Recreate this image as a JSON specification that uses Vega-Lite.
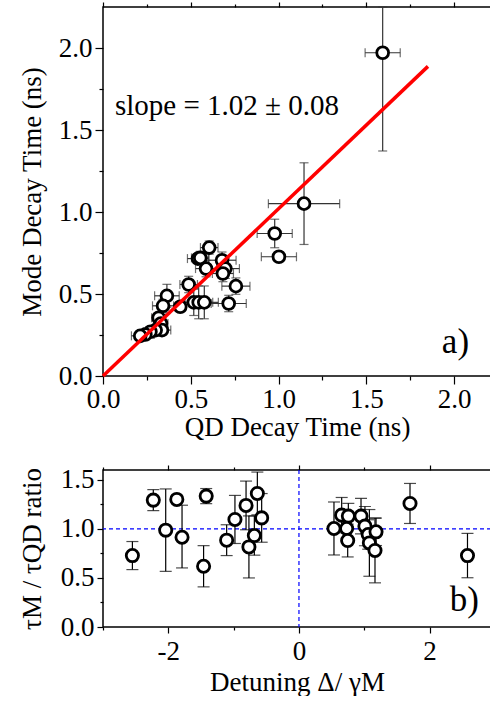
{
  "$schema": "https://vega.github.io/schema/vega-lite/v6.json",
  "padding": {"left": 17, "top": 0, "right": 0, "bottom": 0},
  "background": "white",
  "spacing": 22,
  "config": {
    "font": "Liberation Serif",
    "view": {"stroke": "black", "strokeWidth": 1.5},
    "style": {"guide-label": {"font": "Liberation Serif", "fontSize": 27}, "guide-title": {"font": "Liberation Serif", "fontSize": 27}},
    "text": {"font": "Liberation Serif"},
    "axis": {"labelFont": "Liberation Serif", "titleFont": "Liberation Serif", "labelFontSize": 27, "titleFontSize": 27, "titleFontWeight": "normal", "labelColor": "black", "titleColor": "black", "tickColor": "black", "tickWidth": 1.2, "domain": false, "grid": false, "labelFlush": false, "labelOverlap": false}
  },
  "datasets": {
    "top": [
      {"x": 1.593, "y": 1.971, "xlo": 1.493, "xhi": 1.693, "ylo": 1.372, "yhi": 2.25},
      {"x": 1.145, "y": 1.051, "xlo": 0.942, "xhi": 1.348, "ylo": 0.802, "yhi": 1.30},
      {"x": 0.978, "y": 0.869, "xlo": 0.878, "xhi": 1.078, "ylo": 0.782, "yhi": 0.956},
      {"x": 1.002, "y": 0.727, "xlo": 0.902, "xhi": 1.102, "ylo": 0.70, "yhi": 0.754},
      {"x": 0.605, "y": 0.783, "xlo": 0.555, "xhi": 0.655, "ylo": 0.743, "yhi": 0.823},
      {"x": 0.541, "y": 0.716, "xlo": 0.481, "xhi": 0.601, "ylo": 0.686, "yhi": 0.746},
      {"x": 0.554, "y": 0.72, "xlo": 0.504, "xhi": 0.604, "ylo": 0.68, "yhi": 0.76},
      {"x": 0.587, "y": 0.655, "xlo": 0.527, "xhi": 0.647, "ylo": 0.605, "yhi": 0.705},
      {"x": 0.678, "y": 0.706, "xlo": 0.598, "xhi": 0.758, "ylo": 0.656, "yhi": 0.756},
      {"x": 0.697, "y": 0.655, "xlo": 0.617, "xhi": 0.777, "ylo": 0.595, "yhi": 0.715},
      {"x": 0.683, "y": 0.625, "xlo": 0.623, "xhi": 0.743, "ylo": 0.575, "yhi": 0.675},
      {"x": 0.757, "y": 0.548, "xlo": 0.677, "xhi": 0.837, "ylo": 0.498, "yhi": 0.598},
      {"x": 0.488, "y": 0.558, "xlo": 0.438, "xhi": 0.538, "ylo": 0.508, "yhi": 0.608},
      {"x": 0.517, "y": 0.449, "xlo": 0.467, "xhi": 0.567, "ylo": 0.369, "yhi": 0.529},
      {"x": 0.545, "y": 0.449, "xlo": 0.465, "xhi": 0.625, "ylo": 0.349, "yhi": 0.549},
      {"x": 0.577, "y": 0.449, "xlo": 0.497, "xhi": 0.657, "ylo": 0.349, "yhi": 0.549},
      {"x": 0.716, "y": 0.442, "xlo": 0.616, "xhi": 0.816, "ylo": 0.392, "yhi": 0.492},
      {"x": 0.44, "y": 0.422, "xlo": 0.41, "xhi": 0.47, "ylo": 0.392, "yhi": 0.452},
      {"x": 0.364, "y": 0.489, "xlo": 0.294, "xhi": 0.434, "ylo": 0.419, "yhi": 0.559},
      {"x": 0.342, "y": 0.428, "xlo": 0.282, "xhi": 0.402, "ylo": 0.388, "yhi": 0.468},
      {"x": 0.317, "y": 0.355, "xlo": 0.277, "xhi": 0.357, "ylo": 0.325, "yhi": 0.385},
      {"x": 0.33, "y": 0.32, "xlo": 0.29, "xhi": 0.37, "ylo": 0.29, "yhi": 0.35},
      {"x": 0.336, "y": 0.28, "xlo": 0.286, "xhi": 0.386, "ylo": 0.25, "yhi": 0.31},
      {"x": 0.30, "y": 0.28, "xlo": 0.26, "xhi": 0.34, "ylo": 0.25, "yhi": 0.31},
      {"x": 0.27, "y": 0.27, "xlo": 0.23, "xhi": 0.31, "ylo": 0.25, "yhi": 0.29},
      {"x": 0.241, "y": 0.253, "xlo": 0.191, "xhi": 0.291, "ylo": 0.233, "yhi": 0.273},
      {"x": 0.212, "y": 0.245, "xlo": 0.162, "xhi": 0.262, "ylo": 0.225, "yhi": 0.265}
    ],
    "bot": [
      {"x": -2.55, "y": 0.728, "ylo": 0.585, "yhi": 0.871},
      {"x": -2.23, "y": 1.293, "ylo": 1.186, "yhi": 1.40},
      {"x": -2.04, "y": 0.987, "ylo": 0.567, "yhi": 1.407},
      {"x": -1.87, "y": 1.30, "ylo": 1.27, "yhi": 1.33},
      {"x": -1.79, "y": 0.915, "ylo": 0.602, "yhi": 1.241},
      {"x": -1.42, "y": 1.334, "ylo": 1.257, "yhi": 1.411},
      {"x": -1.46, "y": 0.619, "ylo": 0.409, "yhi": 0.829},
      {"x": -1.107, "y": 0.885, "ylo": 0.728, "yhi": 1.042},
      {"x": -0.98, "y": 1.096, "ylo": 0.851, "yhi": 1.341},
      {"x": -0.81, "y": 1.239, "ylo": 0.991, "yhi": 1.487},
      {"x": -0.766, "y": 0.816, "ylo": 0.50, "yhi": 1.132},
      {"x": -0.683, "y": 0.932, "ylo": 0.732, "yhi": 1.132},
      {"x": -0.637, "y": 1.361, "ylo": 1.143, "yhi": 1.579},
      {"x": -0.571, "y": 1.112, "ylo": 0.864, "yhi": 1.36},
      {"x": 0.536, "y": 1.004, "ylo": 0.734, "yhi": 1.274},
      {"x": 0.654, "y": 1.14, "ylo": 0.96, "yhi": 1.32},
      {"x": 0.756, "y": 1.13, "ylo": 1.0, "yhi": 1.26},
      {"x": 0.73, "y": 1.004, "ylo": 0.874, "yhi": 1.134},
      {"x": 0.746, "y": 0.881, "ylo": 0.714, "yhi": 1.048},
      {"x": 0.95, "y": 1.13, "ylo": 0.95, "yhi": 1.31},
      {"x": 1.01, "y": 1.028, "ylo": 0.828, "yhi": 1.228},
      {"x": 1.06, "y": 0.943, "ylo": 0.793, "yhi": 1.093},
      {"x": 1.18, "y": 0.97, "ylo": 0.83, "yhi": 1.11},
      {"x": 1.078, "y": 0.857, "ylo": 0.517, "yhi": 1.197},
      {"x": 1.164, "y": 0.78, "ylo": 0.45, "yhi": 1.11},
      {"x": 1.70, "y": 1.259, "ylo": 1.055, "yhi": 1.463},
      {"x": 2.58, "y": 0.728, "ylo": 0.502, "yhi": 0.954}
    ]
  },
  "vconcat": [
    {
      "width": 388,
      "height": 369,
      "layer": [
        {
          "data": {"name": "top"},
          "mark": {"type": "errorbar", "ticks": {"size": 9, "color": "#333"}, "rule": {"color": "#333", "strokeWidth": 1.2}, "thickness": 1.2},
          "encoding": {
            "x": {"field": "xlo", "type": "quantitative", "scale": {"domain": [0, 2.21], "nice": false, "zero": false},
              "axis": {"orient": "bottom", "title": "QD Decay Time (ns)", "labelFont": "Liberation Serif", "titleFont": "Liberation Serif", "labelFontSize": 27, "titleFontSize": 27, "values": [0, 0.25, 0.5, 0.75, 1, 1.25, 1.5, 1.75, 2], "labelExpr": "datum.value % 0.5 === 0 ? format(datum.value, '.1f') : ''", "tickSize": {"condition": {"test": "datum.value % 0.5 === 0", "value": 8}, "value": 4}, "labelPadding": 2, "titlePadding": 2}},
            "x2": {"field": "xhi"},
            "y": {"field": "y", "type": "quantitative", "scale": {"domain": [0, 2.25], "nice": false, "zero": false},
              "axis": {"orient": "left", "title": "Mode Decay Time (ns)", "labelFont": "Liberation Serif", "titleFont": "Liberation Serif", "labelFontSize": 27, "titleFontSize": 27, "values": [0, 0.25, 0.5, 0.75, 1, 1.25, 1.5, 1.75, 2], "labelExpr": "datum.value % 0.5 === 0 ? format(datum.value, '.1f') : ''", "tickSize": {"condition": {"test": "datum.value % 0.5 === 0", "value": 8}, "value": 4}, "labelPadding": 3, "titlePadding": 10, "minExtent": 47, "maxExtent": 47}}
          }
        },
        {
          "data": {"name": "top"},
          "mark": {"type": "errorbar", "ticks": {"size": 9, "color": "#333"}, "rule": {"color": "#333", "strokeWidth": 1.2}, "thickness": 1.2},
          "encoding": {
            "x": {"field": "x", "type": "quantitative", "scale": {"domain": [0, 2.21], "nice": false, "zero": false},
              "axis": {"orient": "top", "title": null, "labels": false, "values": [0, 0.25, 0.5, 0.75, 1, 1.25, 1.5, 1.75, 2], "tickSize": {"condition": {"test": "datum.value % 0.5 === 0", "value": 5}, "value": 3}}},
            "y": {"field": "ylo", "type": "quantitative", "scale": {"domain": [0, 2.25], "nice": false, "zero": false},
              "axis": {"orient": "right", "title": null, "labels": false, "values": [0, 0.25, 0.5, 0.75, 1, 1.25, 1.5, 1.75, 2], "tickSize": {"condition": {"test": "datum.value % 0.5 === 0", "value": 5}, "value": 3}}},
            "y2": {"field": "yhi"}
          }
        },
        {
          "data": {"name": "top"},
          "mark": {"type": "point", "shape": "circle", "size": 140, "fill": "white", "stroke": "black", "strokeWidth": 2.8, "opacity": 1, "fillOpacity": 1},
          "encoding": {
            "x": {"field": "x", "type": "quantitative", "scale": {"domain": [0, 2.21], "nice": false, "zero": false}, "axis": null},
            "y": {"field": "y", "type": "quantitative", "scale": {"domain": [0, 2.25], "nice": false, "zero": false}, "axis": null}
          }
        },
        {
          "data": {"values": [{"x": 0, "y": 0}, {"x": 1.851, "y": 1.888}]},
          "mark": {"type": "line", "color": "#ff0000", "strokeWidth": 3.5},
          "encoding": {
            "x": {"field": "x", "type": "quantitative", "scale": {"domain": [0, 2.21], "nice": false, "zero": false}, "axis": null},
            "y": {"field": "y", "type": "quantitative", "scale": {"domain": [0, 2.25], "nice": false, "zero": false}, "axis": null}
          }
        },
        {
          "data": {"values": [{"x": 0.068, "y": 1.59, "label": "slope = 1.02 ± 0.08"}]},
          "mark": {"type": "text", "align": "left", "baseline": "alphabetic", "font": "Liberation Serif", "fontSize": 29, "color": "black"},
          "encoding": {
            "x": {"field": "x", "type": "quantitative", "scale": {"domain": [0, 2.21], "nice": false, "zero": false}, "axis": null},
            "y": {"field": "y", "type": "quantitative", "scale": {"domain": [0, 2.25], "nice": false, "zero": false}, "axis": null},
            "text": {"field": "label"}
          }
        },
        {
          "data": {"values": [{"x": 1.93, "y": 0.138, "label": "a)"}]},
          "mark": {"type": "text", "align": "left", "baseline": "alphabetic", "font": "Liberation Serif", "fontSize": 35, "color": "black"},
          "encoding": {
            "x": {"field": "x", "type": "quantitative", "scale": {"domain": [0, 2.21], "nice": false, "zero": false}, "axis": null},
            "y": {"field": "y", "type": "quantitative", "scale": {"domain": [0, 2.25], "nice": false, "zero": false}, "axis": null},
            "text": {"field": "label"}
          }
        }
      ],
      "resolve": {"axis": {"x": "independent", "y": "independent"}}
    },
    {
      "width": 388,
      "height": 157,
      "layer": [
        {
          "data": {"values": [{"v": 1}]},
          "mark": {"type": "rule", "color": "#0000ff", "strokeDash": [4, 3], "strokeWidth": 1.2},
          "encoding": {
            "y": {"field": "v", "type": "quantitative", "scale": {"domain": [0, 1.6], "nice": false, "zero": false}, "axis": null}
          }
        },
        {
          "data": {"values": [{"v": 0}]},
          "mark": {"type": "rule", "color": "#0000ff", "strokeDash": [4, 3], "strokeWidth": 1.2},
          "encoding": {
            "x": {"field": "v", "type": "quantitative", "scale": {"domain": [-3, 2.94], "nice": false, "zero": false}, "axis": null}
          }
        },
        {
          "data": {"name": "bot"},
          "mark": {"type": "errorbar", "ticks": {"size": 12, "color": "black"}, "rule": {"color": "black", "strokeWidth": 1.2}, "thickness": 1.2},
          "encoding": {
            "x": {"field": "x", "type": "quantitative", "scale": {"domain": [-3, 2.94], "nice": false, "zero": false},
              "axis": {"orient": "bottom", "title": "Detuning Δ/ γM", "labelFont": "Liberation Serif", "titleFont": "Liberation Serif", "labelFontSize": 27, "titleFontSize": 27, "values": [-3, -2, -1, 0, 1, 2], "labelExpr": "datum.value % 2 === 0 ? '' + datum.value : ''", "tickSize": {"condition": {"test": "datum.value % 2 === 0", "value": 6}, "value": 3}, "labelPadding": 5, "titlePadding": 5}},
            "y": {"field": "ylo", "type": "quantitative", "scale": {"domain": [0, 1.6], "nice": false, "zero": false},
              "axis": {"orient": "left", "title": "τM / τQD ratio", "labelFont": "Liberation Serif", "titleFont": "Liberation Serif", "labelFontSize": 27, "titleFontSize": 27, "values": [0, 0.25, 0.5, 0.75, 1, 1.25, 1.5], "labelExpr": "datum.value % 0.5 === 0 ? format(datum.value, '.1f') : ''", "tickSize": {"condition": {"test": "datum.value % 0.5 === 0", "value": 6}, "value": 3}, "labelPadding": 3, "titlePadding": 10, "minExtent": 47, "maxExtent": 47}},
            "y2": {"field": "yhi"}
          }
        },
        {
          "data": {"name": "bot"},
          "mark": {"type": "point", "shape": "circle", "size": 150, "fill": "white", "stroke": "black", "strokeWidth": 2.8, "opacity": 1, "fillOpacity": 1},
          "encoding": {
            "x": {"field": "x", "type": "quantitative", "scale": {"domain": [-3, 2.94], "nice": false, "zero": false},
              "axis": {"orient": "top", "title": null, "labels": false, "values": [-3, -2, -1, 0, 1, 2], "tickSize": {"condition": {"test": "datum.value % 2 === 0", "value": 5}, "value": 3}}},
            "y": {"field": "y", "type": "quantitative", "scale": {"domain": [0, 1.6], "nice": false, "zero": false},
              "axis": {"orient": "right", "title": null, "labels": false, "values": [0, 0.25, 0.5, 0.75, 1, 1.25, 1.5], "tickSize": {"condition": {"test": "datum.value % 0.5 === 0", "value": 5}, "value": 3}}}
          }
        },
        {
          "data": {"values": [{"x": 2.31, "y": 0.16, "label": "b)"}]},
          "mark": {"type": "text", "align": "left", "baseline": "alphabetic", "font": "Liberation Serif", "fontSize": 35, "color": "black"},
          "encoding": {
            "x": {"field": "x", "type": "quantitative", "scale": {"domain": [-3, 2.94], "nice": false, "zero": false}, "axis": null},
            "y": {"field": "y", "type": "quantitative", "scale": {"domain": [0, 1.6], "nice": false, "zero": false}, "axis": null},
            "text": {"field": "label"}
          }
        }
      ],
      "resolve": {"axis": {"x": "independent", "y": "independent"}}
    }
  ]
}
